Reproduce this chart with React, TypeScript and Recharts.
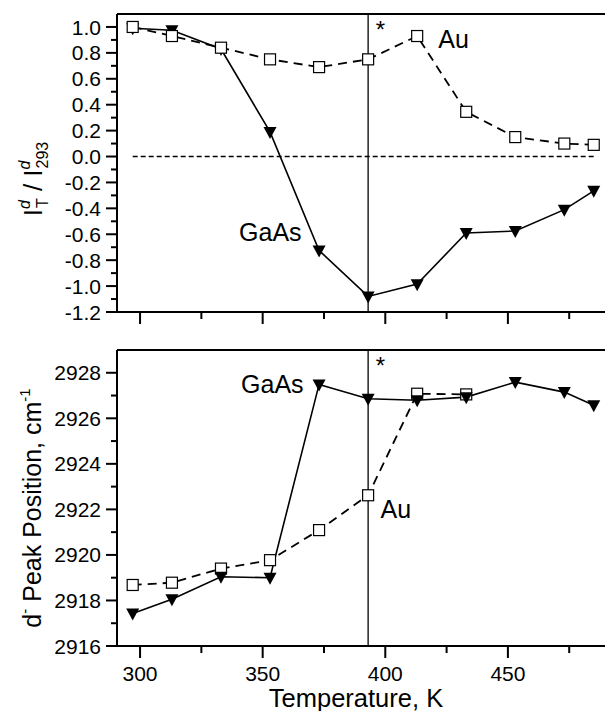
import React from 'react';
import {LineChart, Line, XAxis, YAxis, ReferenceLine, ReferenceDot} from 'recharts';

// temperatures (K)
const temps = [297, 313, 333, 353, 373, 393, 413, 433, 453, 473, 485];
// top panel: I_T / I_293
const auRatio = [1.0, 0.93, 0.84, 0.75, 0.69, 0.75, 0.93, 0.345, 0.15, 0.1, 0.09];
const gaasRatio = [0.99, 0.975, 0.83, 0.19, -0.725, -1.08, -0.985, -0.59, -0.575, -0.41, -0.265];
// bottom panel: d- peak position (cm-1); Au only measured up to 433 K
const auPeak = [2918.68, 2918.78, 2919.4, 2919.77, 2921.09, 2922.62, 2927.08, 2927.05];
const gaasPeak = [2917.43, 2918.05, 2919.04, 2919.0, 2927.49, 2926.86, 2926.79, 2926.93, 2927.59, 2927.15, 2926.57];

const markTemp = 393;

const xMajor = [300, 350, 400, 450];
const xMinor = [325, 375, 425, 475];
const ratioMajor = [-1.2, -1.0, -0.8, -0.6, -0.4, -0.2, 0.0, 0.2, 0.4, 0.6, 0.8, 1.0];
const ratioMinor = [-1.1, -0.9, -0.7, -0.5, -0.3, -0.1, 0.1, 0.3, 0.5, 0.7, 0.9];
const peakMajor = [2916, 2918, 2920, 2922, 2924, 2926, 2928];
const peakMinor = [2917, 2919, 2921, 2923, 2925, 2927];

const topData = temps.map((t, i) => ({t, au: auRatio[i], gaas: gaasRatio[i]}));
const bottomData = temps.map((t, i) => ({t, au: auPeak[i], gaas: gaasPeak[i]}));

const FONT = "'Liberation Sans', Arial, Helvetica, sans-serif";
const xDomain = [290.6, 490];

const Square = (p: any) => {
  const {cx, cy, index} = p;
  if (cx == null || cy == null) return <g key={`s${index}`} />;
  return <rect key={`s${index}`} x={cx - 5.5} y={cy - 5.5} width={11} height={11} fill="#fff" stroke="#000" strokeWidth={1.2} />;
};

const Tri = (p: any) => {
  const {cx, cy, index} = p;
  if (cx == null || cy == null) return <g key={`t${index}`} />;
  return <path key={`t${index}`} d={`M${cx - 6.5},${cy - 5} L${cx + 6.5},${cy - 5} L${cx},${cy + 7} Z`} fill="#000" />;
};

const xTick = (showLabel: boolean) => (p: any) => {
  const {x, y, payload} = p;
  const major = xMajor.includes(payload.value);
  return (
    <g>
      <line x1={x} x2={x} y1={y} y2={y + (major ? 12 : 7)} stroke="#000" strokeWidth={2} />
      {showLabel && major && (
        <text x={x} y={y + 35} textAnchor="middle" fontSize={21} fontFamily={FONT} fill="#000">{payload.value}</text>
      )}
    </g>
  );
};

const yTick = (majors: number[], fmt: (v: number) => string) => (p: any) => {
  const {x, y, payload} = p;
  const major = majors.includes(payload.value);
  return (
    <g>
      <line x1={x} x2={x - (major ? 11 : 6)} y1={y} y2={y} stroke="#000" strokeWidth={2} />
      {major && (
        <text x={x - 16} y={y} dy="0.36em" textAnchor="end" fontSize={21} fontFamily={FONT} fill="#000">{fmt(payload.value)}</text>
      )}
    </g>
  );
};

const note = (text: string, size = 25) => (p: any) => {
  const {x, y} = p.viewBox;
  return <text x={x} y={y} dy="0.36em" fontSize={size} fontFamily={FONT} fill="#000">{text}</text>;
};

const axisStyle = {stroke: '#000', strokeWidth: 2};

export default function App() {
  return (
    <div style={{position: 'absolute', left: 0, top: 0, width: 605, height: 711, overflow: 'hidden', background: '#fff'}}>
      <div style={{position: 'absolute', left: 0, top: 0}}>
        <LineChart width={608} height={330} data={topData} margin={{top: 14, right: 2, bottom: 0, left: 0}}>
          <XAxis dataKey="t" type="number" domain={xDomain} ticks={[...xMajor, ...xMinor]} interval={0}
            axisLine={axisStyle} tickLine={false} tickSize={0} tickMargin={0} height={18} tick={xTick(false)} />
          <YAxis type="number" domain={[-1.2, 1.1]} ticks={[...ratioMajor, ...ratioMinor]} interval={0} width={117}
            axisLine={axisStyle} tickLine={false} tickSize={0} tickMargin={0} tick={yTick(ratioMajor, (v) => v.toFixed(1))}
            label={() => (
              <text transform="rotate(-90, 33, 179)" x={33} y={179} dy="0.36em" textAnchor="middle" fontSize={26} fontFamily={FONT} fill="#000">
                I<tspan fontSize={16} fontStyle="italic" dy={-12}>d</tspan>
                <tspan fontSize={16} dy={18} dx={-8}>T</tspan>
                <tspan fontSize={26} dy={-6}> / I</tspan>
                <tspan fontSize={16} fontStyle="italic" dy={-12}>d</tspan>
                <tspan fontSize={16} dy={18} dx={-8}>293</tspan>
              </text>
            )} />
          <ReferenceLine y={1.1} stroke="#000" strokeWidth={2} />
          <ReferenceLine x={markTemp} stroke="#000" strokeWidth={1.3} />
          <ReferenceLine segment={[{x: temps[0], y: 0}, {x: temps[temps.length - 1], y: 0}]} stroke="#000" strokeWidth={1.5} strokeDasharray="5 3" />
          <Line dataKey="gaas" stroke="#000" strokeWidth={1.6} dot={Tri} activeDot={false} isAnimationActive={false} />
          <Line dataKey="au" stroke="#000" strokeWidth={1.8} strokeDasharray="9 6" dot={Square} activeDot={false} isAnimationActive={false} />
          <ReferenceDot x={422} y={0.9} r={1} fill="none" stroke="none" label={note('Au')} />
          <ReferenceDot x={340.8} y={-0.59} r={1} fill="none" stroke="none" label={note('GaAs')} />
          <ReferenceDot x={396.5} y={0.97} r={1} fill="none" stroke="none" label={note('*', 24)} />
        </LineChart>
      </div>
      <div style={{position: 'absolute', left: 0, top: 330}}>
        <LineChart width={608} height={381} data={bottomData} margin={{top: 20, right: 2, bottom: 0, left: 0}}>
          <XAxis dataKey="t" type="number" domain={xDomain} ticks={[...xMajor, ...xMinor]} interval={0}
            axisLine={axisStyle} tickLine={false} tickSize={0} tickMargin={0} height={65} tick={xTick(true)}
            label={() => (
              <text x={356} y={377} textAnchor="middle" fontSize={25.5} fontFamily={FONT} fill="#000">Temperature, K</text>
            )} />
          <YAxis type="number" domain={[2916, 2929]} ticks={[...peakMajor, ...peakMinor]} interval={0} width={117}
            axisLine={axisStyle} tickLine={false} tickSize={0} tickMargin={0} tick={yTick(peakMajor, (v) => String(v))}
            label={() => (
              <text transform="rotate(-90, 32, 178)" x={32} y={178} dy="0.36em" textAnchor="middle" fontSize={25} fontFamily={FONT} fill="#000">
                d<tspan fontSize={15} dy={-11}>-</tspan>
                <tspan dy={11}> Peak Position, cm</tspan>
                <tspan fontSize={15} dy={-11}>-1</tspan>
              </text>
            )} />
          <ReferenceLine y={2929} stroke="#000" strokeWidth={2} />
          <ReferenceLine x={markTemp} stroke="#000" strokeWidth={1.3} />
          <Line dataKey="au" stroke="#000" strokeWidth={1.8} strokeDasharray="9 6" dot={Square} activeDot={false} isAnimationActive={false} connectNulls={false} />
          <Line dataKey="gaas" stroke="#000" strokeWidth={1.6} dot={Tri} activeDot={false} isAnimationActive={false} />
          <ReferenceDot x={341.6} y={2927.45} r={1} fill="none" stroke="none" label={note('GaAs')} />
          <ReferenceDot x={398.5} y={2921.96} r={1} fill="none" stroke="none" label={note('Au')} />
          <ReferenceDot x={396.5} y={2928.3} r={1} fill="none" stroke="none" label={note('*', 24)} />
        </LineChart>
      </div>
    </div>
  );
}
